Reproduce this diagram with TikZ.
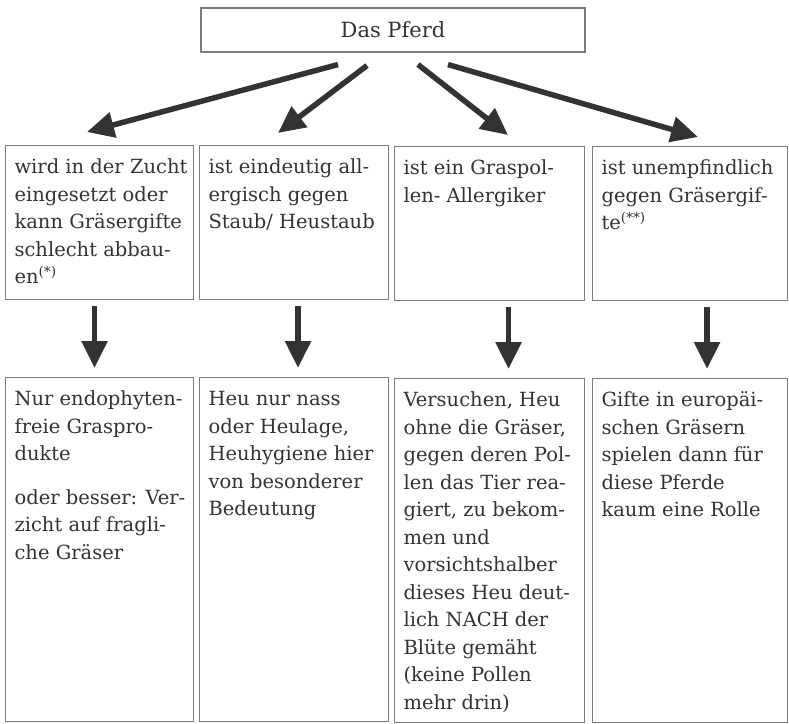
\documentclass[tikz,border=0pt]{standalone}
\usepackage{fontspec}
\setmainfont{DejaVu Serif}
\usetikzlibrary{arrows.meta,calc}
\definecolor{txt}{HTML}{333333}
\definecolor{framecol}{HTML}{7C7C7C}
\definecolor{arrcol}{HTML}{333333}
\newcommand{\cellbody}[3]{\parbox[t][#2][t]{#1}{\leftskip=9pt\rightskip=0pt plus 1fil\parfillskip=0pt plus 1fil\hyphenpenalty=10000\exhyphenpenalty=10000\parindent=0pt\rule{0pt}{28pt}#3}}
\tikzset{
  cell/.style={draw=framecol, line width=1.1pt, anchor=north west, inner sep=0pt, text=txt, font=\fontsize{19.5}{27.5}\selectfont},
  title/.style={draw=framecol, line width=1.1pt, inner sep=0pt, minimum width=384pt, minimum height=44pt, text=txt, font=\fontsize{21}{25}\selectfont},
  bigarrow/.style={draw=arrcol, line width=5.5pt, -{Triangle[length=27pt,width=25pt]}}
}
\begin{document}
\begin{tikzpicture}[x=1pt,y=-1pt]
\useasboundingbox (0,0) rectangle (789,723);
\node[title] (top) at (393,30) {Das Pferd};
% row 1
\node[cell] (a1) at (5,145) {\cellbody{188pt}{154pt}{wird in der Zucht\\ eingesetzt oder\\ kann Gräsergifte\\ schlecht abbau-\\ en\textsuperscript{(*)}}};
\node[cell] (a2) at (199,145) {\cellbody{189pt}{154pt}{ist eindeutig all-\\ ergisch gegen\\ Staub/ Heustaub}};
\node[cell] (a3) at (394,146) {\cellbody{190pt}{154pt}{ist ein Graspol-\\ len- Allergiker}};
\node[cell] (a4) at (592,146) {\cellbody{195pt}{154pt}{ist unempfindlich\\ gegen Gräsergif-\\ te\textsuperscript{(**)}}};
% row 2
\node[cell] (b1) at (5,377) {\cellbody{188pt}{344pt}{Nur endophyten-\\ freie Graspro-\\ dukte\\[16pt] oder besser: Ver-\\ zicht auf fragli-\\ che Gräser}};
\node[cell] (b2) at (199,377) {\cellbody{189pt}{344pt}{Heu nur nass\\ oder Heulage,\\ Heuhygiene hier\\ von besonderer\\ Bedeutung}};
\node[cell] (b3) at (394,378) {\cellbody{190pt}{344pt}{Versuchen, Heu\\ ohne die Gräser,\\ gegen deren Pol-\\ len das Tier rea-\\ giert, zu bekom-\\ men und\\ vorsichtshalber\\ dieses Heu deut-\\ lich NACH der\\ Blüte gemäht\\ (keine Pollen\\ mehr drin)}};
\node[cell] (b4) at (592,378) {\cellbody{195pt}{344pt}{Gifte in europäi-\\ schen Gräsern\\ spielen dann für\\ diese Pferde\\ kaum eine Rolle}};
% diagonal arrows
\draw[bigarrow] ($(top.south)+(-55,12)$) -- ($(a1.north west)+(82,-13)$);
\draw[bigarrow] ($(top.south)+(-26,13)$) -- ($(a2.north west)+(79,-12)$);
\draw[bigarrow] ($(top.south)+(25,12)$) -- ($(a3.north west)+(114,-11)$);
\draw[bigarrow] ($(top.south)+(55,12)$) -- ($(a4.north west)+(106,-9)$);
% vertical arrows
\draw[bigarrow] ($(a1.south)+(-5,6)$) -- ($(b1.north)+(-5,-9)$);
\draw[bigarrow] ($(a2.south)+(4,6)$) -- ($(b2.north)+(4,-9)$);
\draw[bigarrow] ($(a3.south)+(19,6)$) -- ($(b3.north)+(19,-9)$);
\draw[bigarrow] ($(a4.south)+(17,6)$) -- ($(b4.north)+(17,-9)$);
\end{tikzpicture}
\end{document}
